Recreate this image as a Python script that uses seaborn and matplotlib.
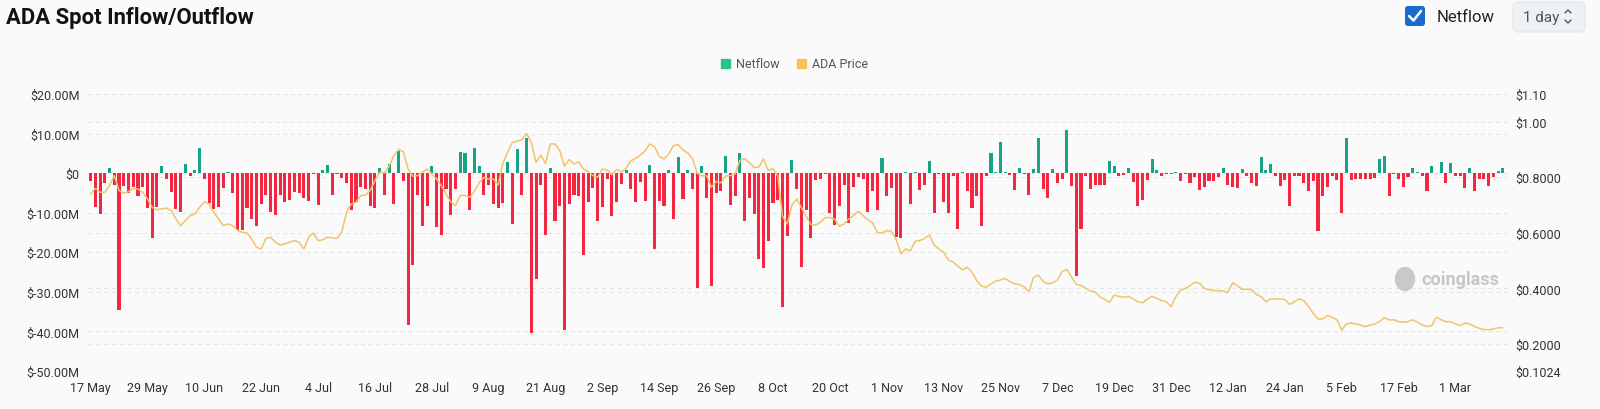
import pandas as pd
import matplotlib
matplotlib.use("Agg")
import matplotlib.pyplot as plt
import matplotlib.transforms as mtransforms
from matplotlib.patches import Patch, FancyBboxPatch, Ellipse
from matplotlib.lines import Line2D
import seaborn as sns

# daily netflow in $M, starting 17 May
start_date = "2024-05-17"
netflow_m = [
    -1.9, -8.5, -10.4, -2.4, 1.4, -3.0, -34.6, -3.2, -4.9, -3.6, -5.9, -3.6,
    -8.9, -16.5, -8.5, 1.9, -1.5, -4.7, -9.1, -9.8, 2.4, -0.8, 0.8, 6.3,
    -1.4, -7.6, -9.1, -8.5, -3.8, 0.2, -4.9, -14.3, -14.4, -8.7, -11.5, -13.3,
    -7.8, -5.6, -9.8, -10.6, -5.6, -7.3, -6.8, -4.7, -5.1, -6.2, -7.0, -0.3,
    -8.1, 0.8, 2.1, -5.6, -0.2, -1.2, -2.4, -9.4, -7.4, -3.4, -3.9, -8.4,
    -8.8, 1.4, -5.4, 2.4, -7.8, 5.6, -2.0, -38.3, -23.3, -5.6, -13.3, -8.3,
    1.7, -13.5, -15.7, -4.1, -10.5, -3.9, 5.4, 5.2, -9.3, 6.3, 1.7, -5.4,
    -2.9, -7.9, -8.7, -7.6, 2.9, -12.8, 6.2, -5.6, 8.9, -40.5, -26.7, -3.0,
    -15.7, 1.4, -12.2, -8.3, -39.7, -7.8, -5.4, -5.9, -20.8, -7.4, -3.7, -12.2,
    -8.6, -1.5, -10.8, -7.3, -2.7, 0.8, -4.1, -7.4, -2.2, -7.1, 2.0, -19.1,
    -7.1, -8.3, 0.9, -11.6, 4.2, -6.6, 0.8, -3.9, -28.9, 1.9, -6.2, -28.4,
    -5.1, -4.6, 4.4, -8.1, -5.9, 5.1, -12.0, -6.2, -10.4, -21.8, -24.0, -17.2,
    -7.6, -6.8, -33.9, -15.9, 3.4, -3.9, -23.6, -9.3, -16.5, -1.7, -1.5, -0.2,
    -10.1, -13.2, -8.3, -2.9, -12.7, -3.6, -1.0, -1.5, -9.8, -4.4, -9.3, 3.9,
    -5.7, -3.7, -16.2, -16.5, 0.3, -7.8, 0.25, -4.2, -2.9, 3.1, -10.0, -0.3,
    -7.3, -10.0, -0.7, -14.0, 0.4, -4.4, -8.7, -5.9, -13.3, -0.8, 5.1, 0.2,
    7.8, 0.3, -0.4, -4.3, 1.2, -0.3, -5.6, 1.0, 8.9, -4.1, -6.2, 1.0,
    -2.4, -1.5, 10.8, -3.2, -26.0, -14.2, -0.7, -4.1, -2.9, -2.9, -3.0, 3.1,
    1.9, -0.7, -0.5, 1.4, -2.2, -8.4, -6.8, -1.7, 3.5, 0.7, -0.7, -0.2,
    -0.3, 0.3, -2.1, -0.1, -2.5, -0.9, -4.2, -3.4, -2.0, -2.0, -1.0, 1.4,
    -3.0, -3.6, -3.7, 1.0, -0.8, -2.5, -3.2, 4.1, 0.8, 2.4, -0.7, -3.2,
    -1.7, -8.4, -0.7, -0.8, -2.5, -4.5, -1.9, -14.6, -5.7, -3.6, -0.8, -1.8,
    -10.0, 8.9, -1.7, -1.5, -1.5, -1.5, -1.4, -1.2, 3.7, 4.4, -5.9, -0.3,
    -1.5, -3.5, -1.0, 1.4, 0.2, -0.7, -4.4, 1.7, 0.1, 2.7, -2.5, 2.5,
    -0.7, -0.8, -3.7, 1.2, -4.4, -1.4, -1.5, -3.2, -1.0, 0.6, 1.2,
]

# daily ADA price in $
ada_price = [
    0.740, 0.760, 0.746, 0.746, 0.770, 0.806, 0.752, 0.743, 0.748, 0.760, 0.758, 0.746,
    0.722, 0.692, 0.683, 0.686, 0.689, 0.680, 0.650, 0.626, 0.644, 0.662, 0.668, 0.692,
    0.712, 0.704, 0.674, 0.650, 0.626, 0.632, 0.626, 0.608, 0.602, 0.600, 0.578, 0.548,
    0.542, 0.580, 0.584, 0.566, 0.556, 0.560, 0.566, 0.572, 0.566, 0.542, 0.584, 0.599,
    0.572, 0.575, 0.584, 0.582, 0.580, 0.602, 0.674, 0.704, 0.710, 0.734, 0.736, 0.752,
    0.788, 0.818, 0.816, 0.840, 0.878, 0.900, 0.892, 0.830, 0.804, 0.806, 0.818, 0.830,
    0.812, 0.794, 0.770, 0.740, 0.712, 0.698, 0.735, 0.735, 0.728, 0.750, 0.780, 0.800,
    0.794, 0.794, 0.772, 0.850, 0.890, 0.926, 0.930, 0.935, 0.958, 0.925, 0.854, 0.880,
    0.850, 0.920, 0.920, 0.896, 0.840, 0.864, 0.848, 0.856, 0.830, 0.820, 0.806, 0.800,
    0.830, 0.826, 0.810, 0.828, 0.820, 0.832, 0.860, 0.868, 0.880, 0.895, 0.920, 0.910,
    0.875, 0.866, 0.884, 0.914, 0.918, 0.898, 0.888, 0.868, 0.815, 0.805, 0.806, 0.764,
    0.785, 0.780, 0.805, 0.806, 0.812, 0.860, 0.868, 0.853, 0.836, 0.836, 0.866, 0.824,
    0.831, 0.806, 0.660, 0.632, 0.700, 0.722, 0.690, 0.660, 0.630, 0.628, 0.638, 0.655,
    0.655, 0.650, 0.624, 0.632, 0.650, 0.662, 0.678, 0.662, 0.648, 0.636, 0.602, 0.600,
    0.608, 0.606, 0.575, 0.525, 0.542, 0.535, 0.570, 0.572, 0.580, 0.592, 0.556, 0.542,
    0.530, 0.502, 0.495, 0.480, 0.467, 0.476, 0.458, 0.428, 0.408, 0.404, 0.416, 0.426,
    0.430, 0.436, 0.424, 0.416, 0.414, 0.405, 0.388, 0.440, 0.448, 0.425, 0.416, 0.420,
    0.430, 0.460, 0.468, 0.440, 0.415, 0.410, 0.400, 0.390, 0.387, 0.370, 0.360, 0.350,
    0.376, 0.371, 0.368, 0.371, 0.362, 0.352, 0.348, 0.362, 0.371, 0.364, 0.356, 0.352,
    0.334, 0.370, 0.393, 0.400, 0.410, 0.422, 0.419, 0.400, 0.395, 0.392, 0.392, 0.390,
    0.386, 0.420, 0.410, 0.396, 0.397, 0.395, 0.378, 0.370, 0.352, 0.362, 0.362, 0.362,
    0.360, 0.342, 0.352, 0.362, 0.356, 0.335, 0.310, 0.290, 0.290, 0.302, 0.296, 0.287,
    0.250, 0.272, 0.275, 0.272, 0.268, 0.262, 0.268, 0.272, 0.280, 0.295, 0.286, 0.287,
    0.280, 0.278, 0.280, 0.287, 0.278, 0.268, 0.263, 0.266, 0.296, 0.287, 0.280, 0.280,
    0.272, 0.266, 0.275, 0.272, 0.263, 0.256, 0.252, 0.251, 0.254, 0.258, 0.258,
]

tick_labels = ["17 May", "29 May", "10 Jun", "22 Jun", "4 Jul", "16 Jul", "28 Jul",
               "9 Aug", "21 Aug", "2 Sep", "14 Sep", "26 Sep", "8 Oct", "20 Oct",
               "1 Nov", "13 Nov", "25 Nov", "7 Dec", "19 Dec", "31 Dec", "12 Jan",
               "24 Jan", "5 Feb", "17 Feb", "1 Mar"]
left_ticks = [20, 10, 0, -10, -20, -30, -40, -50]
left_tick_labels = ["$20.00M", "$10.00M", "$0", "$-10.00M", "$-20.00M",
                    "$-30.00M", "$-40.00M", "$-50.00M"]
right_ticks = [1.10, 1.00, 0.80, 0.60, 0.40, 0.20, 0.1024]
right_tick_labels = ["$1.10", "$1.00", "$0.8000", "$0.6000", "$0.4000",
                     "$0.2000", "$0.1024"]

BG = "#fafafa"
GREEN = "#17a386"
RED = "#f5263f"
GOLD = "#f0c46a"
GRID = "#e6e6e6"
TXT = "#333333"

df = pd.DataFrame({"day": range(len(netflow_m)), "netflow": netflow_m, "price": ada_price})
df["date"] = pd.date_range(start_date, periods=len(df))
df["flow"] = ["in" if v >= 0 else "out" for v in df["netflow"]]

sns.set_theme(style="white")
plt.rcParams["font.family"] = ["Roboto", "DejaVu Sans"]

fig = plt.figure(figsize=(16, 4.1), dpi=100, facecolor=BG)
ax = fig.add_axes([88 / 1600, 1 - 372 / 410, 1420 / 1600, 277 / 410])
ax.set_facecolor(BG)

sns.barplot(data=df, x="day", y="netflow", hue="flow", palette={"in": GREEN, "out": RED},
            dodge=False, width=0.65, native_scale=True, errorbar=None, saturation=1,
            linewidth=0, legend=False, ax=ax, zorder=3)

ax2 = ax.twinx()
sns.lineplot(data=df, x="day", y="price", color=GOLD, linewidth=1.1, ax=ax2, zorder=5)

ax.set_ylim(-50, 20)
ax2.set_ylim(0.1024, 1.10)
ax.set_xlim(-0.55, 299.1)

ax.set_yticks(left_ticks)
ax.set_yticklabels(left_tick_labels)
ax2.set_yticks(right_ticks)
ax2.set_yticklabels(right_tick_labels)
ax.set_xticks(list(range(0, 12 * len(tick_labels), 12)))
ax.set_xticklabels(tick_labels)

dash = (0, (4, 3))
ax.set_axisbelow(True)
ax.yaxis.grid(True, linestyle=dash, color=GRID, linewidth=0.8)
ax.xaxis.grid(False)
ax2.grid(False)
# right-axis gridlines drawn behind the bars
blend = mtransforms.blended_transform_factory(ax.transAxes, ax2.transData)
for v in right_ticks:
    ax.add_line(Line2D([0, 1], [v, v], transform=blend, linestyle=dash,
                       color=GRID, linewidth=0.8, zorder=0))

for a in (ax, ax2):
    for s in a.spines.values():
        s.set_visible(False)
    a.set_xlabel("")
    a.set_ylabel("")
ax.tick_params(axis="y", length=0, pad=6, labelsize=9, labelcolor=TXT)
ax2.tick_params(axis="y", length=0, pad=5, labelsize=9, labelcolor=TXT)
ax.tick_params(axis="x", length=0, pad=7, labelsize=9, labelcolor=TXT)

fig.text(6 / 1600, 1 - 18 / 410, "ADA Spot Inflow/Outflow", fontsize=15.8,
         fontweight="bold", color="#111111", ha="left", va="center")

fig.legend(handles=[Patch(color="#2bc285", label="Netflow"),
                    Patch(color="#f5c454", label="ADA Price")],
           loc="center", bbox_to_anchor=(795 / 1600, 1 - 65 / 410), ncol=2,
           frameon=False, fontsize=9, handlelength=0.7, handleheight=0.7,
           handletextpad=0.5, columnspacing=1.4, labelcolor="#555555")

# overlay in pixel coordinates for the controls and watermark
ov = fig.add_axes([0, 0, 1, 1])
ov.set_xlim(0, 1600)
ov.set_ylim(410, 0)
ov.axis("off")
ov.patch.set_alpha(0)

ov.add_patch(FancyBboxPatch((1405, 7), 20, 20, boxstyle="round,pad=0,rounding_size=3",
                            fc="#1a6bd0", ec="none"))
ov.plot([1409, 1413.5, 1421], [17, 21.5, 12], color="white", lw=1.8,
        solid_capstyle="round", solid_joinstyle="round")
ov.text(1437, 17, "Netflow", fontsize=12, color="#222222", va="center", ha="left")

ov.add_patch(FancyBboxPatch((1513, 3), 72, 30, boxstyle="round,pad=0,rounding_size=5",
                            fc="#eef1f4", ec="#e2e5e9", lw=0.8))
ov.text(1523, 18, "1 day", fontsize=11, color="#555555", va="center", ha="left")
ov.plot([1565, 1568, 1571], [14, 11, 14], color="#555555", lw=1.0)
ov.plot([1565, 1568, 1571], [21, 24, 21], color="#555555", lw=1.0)

ov.add_patch(Ellipse((1405, 280), 19, 23, color="#c9c9c9"))
ov.text(1421, 280, "coinglass", fontsize=13, fontweight="bold", color="#c6c6c6",
        va="center", ha="left")

fig.savefig("out.png", dpi=100, facecolor=BG)
